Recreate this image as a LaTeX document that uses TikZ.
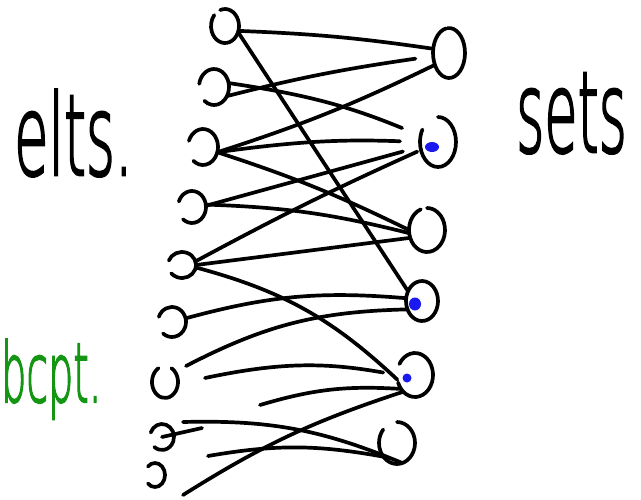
\documentclass[tikz,border=0pt]{standalone}
\usepackage{fontspec}
\newfontfamily\handfont[RawFeature={embolden=2.5}]{DejaVu Sans ExtraLight}
\usetikzlibrary{shapes.geometric}
\definecolor{dotblue}{RGB}{25,25,240}
\definecolor{penGreen}{RGB}{20,150,20}
\newcommand\mkloop[7]{%
  \node[nd,minimum width={(2*#4)*1pt},minimum height={(2*#5)*1pt}] (#1) at (#2,#3) {};
  \draw[pen] (#1.center) ++(#6:#4 and #5) arc[start angle=#6, delta angle=#7, x radius=#4, y radius=#5];
}
\begin{document}
\begin{tikzpicture}[x=1pt,y=1pt,
  nd/.style={ellipse,inner sep=0pt,outer sep=0pt},
  pen/.style={line width=3.7pt,line cap=round,line join=round},
  bluedot/.style={ellipse,fill=dotblue,inner sep=0pt},
  lbl/.style={inner sep=0pt,anchor=base west}]
\useasboundingbox (0,0) rectangle (641,-499);
% left loops (elements)
\mkloop{L1}{225}{-26}{14}{17}{110}{-330}
\mkloop{L2}{214}{-87}{15}{18}{170}{-300}
\mkloop{L3}{203}{-147}{15}{18}{160}{-290}
\mkloop{L4}{192}{-207}{14}{16}{160}{-290}
\mkloop{L5}{182}{-265}{14}{13}{160}{-300}
\mkloop{L6}{172}{-322}{14}{15}{160}{-290}
\mkloop{L7}{165}{-382}{13}{16}{120}{300}
\mkloop{L8}{162}{-437}{12}{13}{160}{-290}
\mkloop{L9}{155}{-475}{10}{12}{135}{-270}
% right loops (sets)
\mkloop{R1}{449}{-53}{16}{25}{100}{355}
\mkloop{R2}{438}{-142}{18}{25}{90}{-300}
\mkloop{R3}{427}{-230}{18}{22}{110}{340}
\mkloop{R4}{422}{-301}{16}{20}{100}{360}
\mkloop{R5}{415}{-375}{18}{22}{150}{-310}
\mkloop{R6}{397}{-443}{18}{21}{90}{-310}
% blue marks
\node[bluedot,minimum width=14pt,minimum height=10pt] (B2) at (432,-147) {};
\node[bluedot,minimum width=12pt,minimum height=13pt] (B4) at (415,-304) {};
\node[bluedot,minimum width=9pt,minimum height=9pt] (B5) at (407,-378) {};
% free ends
\coordinate (S1) at (186,-366);
\coordinate (S2) at (205,-378);
\coordinate (S3) at (260,-405);
\coordinate (S4) at (183,-495);
\coordinate (S5) at (183,-422);
\coordinate (S6) at (208,-456);
\coordinate (S7) at (202,-428);
% connectors
\draw[pen] (L1.-20) to[bend left=3] (R1.165);
\draw[pen] (L1.-25) -- (R4.145);
\draw[pen] (L2.-35) to[bend left=3] ([xshift=-18pt]R1.200);
\draw[pen,shorten >=20pt] (L2.15) to[bend left=7] (R2.160);
\draw[pen] (L3.-20) to[bend right=4] (R1.220);
\draw[pen,shorten >=20pt] (L3.-20) to[bend left=5] (R2.180);
\draw[pen] (L3.-20) to[bend left=4] (R3.180);
\draw[pen,shorten >=18pt] (L4.5) -- (R2.195);
\draw[pen] (L4.10) to[bend left=6] (R3.190);
\draw[pen,shorten >=4pt] (L5.15) to[bend left=2] (R2.205);
\draw[pen] (L5.0) -- (R3.205);
\draw[pen] (L5.-10) to[bend left=14] (R5.195);
\draw[pen] (L6.15) to[bend left=10] (R4.170);
\draw[pen] (S1) to[bend left=13] (R4.210);
\draw[pen,shorten >=14pt] (S2) to[bend left=11] (R5.180);
\draw[pen] (S3) to[bend left=10] (R5.225);
\draw[pen] (S4) to[bend left=7] (R5.235);
\draw[pen] (S5) to[bend left=12] (R6.-75);
\draw[pen] (S6) to[bend left=10] (R6.225);
\draw[pen] (L8.center) -- (S7);
% labels
\node[lbl,font=\handfont\fontsize{90}{90}\selectfont] (elts) at (14,-175) {\scalebox{0.62}[1.25]{elts.}};
\node[lbl,font=\handfont\fontsize{90}{90}\selectfont] (sets) at (516,-152) {\scalebox{0.6}[1.25]{sets}};
\node[lbl,font=\handfont\fontsize{72}{72}\selectfont,text=penGreen] (bcpt) at (1,-402) {\scalebox{0.55}[1.15]{bcpt.}};
\end{tikzpicture}
\end{document}
